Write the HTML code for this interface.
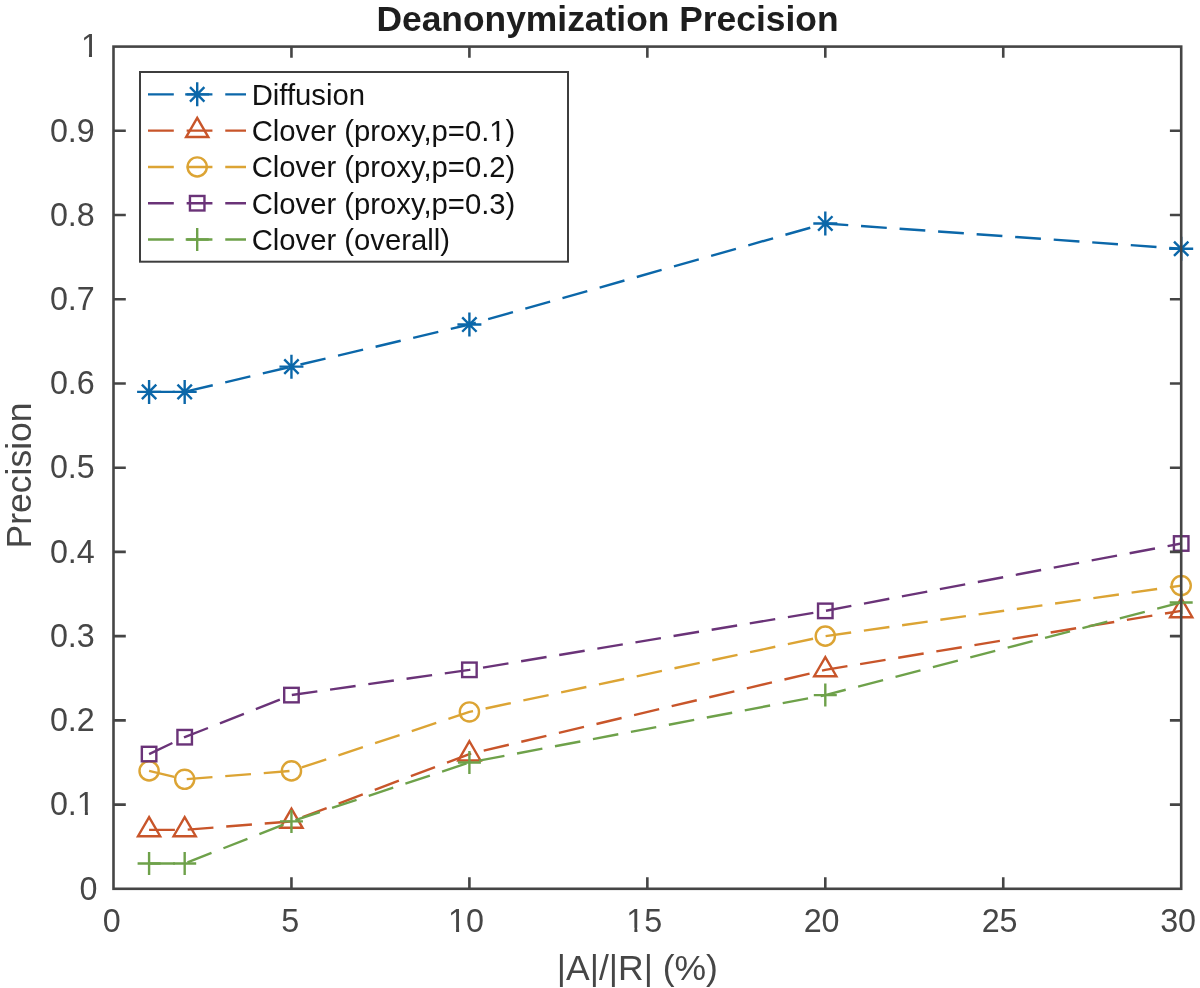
<!DOCTYPE html>
<html><head><meta charset="utf-8"><title>Deanonymization Precision</title>
<style>
html,body{margin:0;padding:0;background:#fff;}
body{width:1200px;height:988px;overflow:hidden;}
svg{display:block;will-change:transform;}
text{font-family:"Liberation Sans", sans-serif;}
</style></head><body>
<svg width="1200" height="988" viewBox="0 0 1200 988">
<rect x="0" y="0" width="1200" height="988" fill="#fff"/>

<polyline points="149.09,391.90 184.68,391.90 291.45,366.64 469.40,324.53 825.30,223.46 1181.20,248.73" fill="none" stroke="#0b67a9" stroke-width="2.4" stroke-dasharray="25.8 12.83" stroke-linejoin="round"/>
<path d="M137.09 391.90H161.09M149.09 379.90V403.90M141.89 384.70L156.29 399.10M141.89 399.10L156.29 384.70" stroke="#0b67a9" stroke-width="2.4" fill="none"/>
<path d="M172.68 391.90H196.68M184.68 379.90V403.90M177.48 384.70L191.88 399.10M177.48 399.10L191.88 384.70" stroke="#0b67a9" stroke-width="2.4" fill="none"/>
<path d="M279.45 366.64H303.45M291.45 354.64V378.64M284.25 359.44L298.65 373.84M284.25 373.84L298.65 359.44" stroke="#0b67a9" stroke-width="2.4" fill="none"/>
<path d="M457.40 324.53H481.40M469.40 312.53V336.53M462.20 317.33L476.60 331.73M462.20 331.73L476.60 317.33" stroke="#0b67a9" stroke-width="2.4" fill="none"/>
<path d="M813.30 223.46H837.30M825.30 211.46V235.46M818.10 216.26L832.50 230.66M818.10 230.66L832.50 216.26" stroke="#0b67a9" stroke-width="2.4" fill="none"/>
<path d="M1169.20 248.73H1193.20M1181.20 236.73V260.73M1174.00 241.53L1188.40 255.93M1174.00 255.93L1188.40 241.53" stroke="#0b67a9" stroke-width="2.4" fill="none"/>
<polyline points="149.09,829.85 184.68,829.85 291.45,821.42 469.40,754.05 825.30,669.83 1181.20,610.87" fill="none" stroke="#c8552a" stroke-width="2.4" stroke-dasharray="25.8 12.83" stroke-linejoin="round"/>
<path d="M149.09 817.05L160.19 836.25L137.99 836.25Z" stroke="#c8552a" stroke-width="2.4" fill="none" stroke-linejoin="miter"/>
<path d="M184.68 817.05L195.78 836.25L173.58 836.25Z" stroke="#c8552a" stroke-width="2.4" fill="none" stroke-linejoin="miter"/>
<path d="M291.45 808.62L302.55 827.82L280.35 827.82Z" stroke="#c8552a" stroke-width="2.4" fill="none" stroke-linejoin="miter"/>
<path d="M469.40 741.25L480.50 760.45L458.30 760.45Z" stroke="#c8552a" stroke-width="2.4" fill="none" stroke-linejoin="miter"/>
<path d="M825.30 657.03L836.40 676.23L814.20 676.23Z" stroke="#c8552a" stroke-width="2.4" fill="none" stroke-linejoin="miter"/>
<path d="M1181.20 598.07L1192.30 617.27L1170.10 617.27Z" stroke="#c8552a" stroke-width="2.4" fill="none" stroke-linejoin="miter"/>
<polyline points="149.09,770.89 184.68,779.31 291.45,770.89 469.40,711.94 825.30,636.14 1181.20,585.61" fill="none" stroke="#dca434" stroke-width="2.4" stroke-dasharray="25.8 12.83" stroke-linejoin="round"/>
<circle cx="149.09" cy="770.89" r="9.6" stroke="#dca434" stroke-width="2.4" fill="none"/>
<circle cx="184.68" cy="779.31" r="9.6" stroke="#dca434" stroke-width="2.4" fill="none"/>
<circle cx="291.45" cy="770.89" r="9.6" stroke="#dca434" stroke-width="2.4" fill="none"/>
<circle cx="469.40" cy="711.94" r="9.6" stroke="#dca434" stroke-width="2.4" fill="none"/>
<circle cx="825.30" cy="636.14" r="9.6" stroke="#dca434" stroke-width="2.4" fill="none"/>
<circle cx="1181.20" cy="585.61" r="9.6" stroke="#dca434" stroke-width="2.4" fill="none"/>
<polyline points="149.09,754.05 184.68,737.20 291.45,695.09 469.40,669.83 825.30,610.87 1181.20,543.50" fill="none" stroke="#6a3378" stroke-width="2.4" stroke-dasharray="25.8 12.83" stroke-linejoin="round"/>
<rect x="141.84" y="746.80" width="14.50" height="14.50" stroke="#6a3378" stroke-width="2.4" fill="none"/>
<rect x="177.43" y="729.95" width="14.50" height="14.50" stroke="#6a3378" stroke-width="2.4" fill="none"/>
<rect x="284.20" y="687.84" width="14.50" height="14.50" stroke="#6a3378" stroke-width="2.4" fill="none"/>
<rect x="462.15" y="662.58" width="14.50" height="14.50" stroke="#6a3378" stroke-width="2.4" fill="none"/>
<rect x="818.05" y="603.62" width="14.50" height="14.50" stroke="#6a3378" stroke-width="2.4" fill="none"/>
<rect x="1173.95" y="536.25" width="14.50" height="14.50" stroke="#6a3378" stroke-width="2.4" fill="none"/>
<polyline points="149.09,863.53 184.68,863.53 291.45,821.42 469.40,762.47 825.30,695.09 1181.20,602.45" fill="none" stroke="#6ea14a" stroke-width="2.4" stroke-dasharray="25.8 12.83" stroke-linejoin="round"/>
<path d="M137.59 863.53H160.59M149.09 852.03V875.03" stroke="#6ea14a" stroke-width="2.4" fill="none"/>
<path d="M173.18 863.53H196.18M184.68 852.03V875.03" stroke="#6ea14a" stroke-width="2.4" fill="none"/>
<path d="M279.95 821.42H302.95M291.45 809.92V832.92" stroke="#6ea14a" stroke-width="2.4" fill="none"/>
<path d="M457.90 762.47H480.90M469.40 750.97V773.97" stroke="#6ea14a" stroke-width="2.4" fill="none"/>
<path d="M813.80 695.09H836.80M825.30 683.59V706.59" stroke="#6ea14a" stroke-width="2.4" fill="none"/>
<path d="M1169.70 602.45H1192.70M1181.20 590.95V613.95" stroke="#6ea14a" stroke-width="2.4" fill="none"/>
<rect x="113.5" y="46.6" width="1067.70" height="842.20" fill="none" stroke="#454545" stroke-width="2.6"/>
<path d="M291.45 888.8V877.3M291.45 46.6V57.7M469.40 888.8V877.3M469.40 46.6V57.7M647.35 888.8V877.3M647.35 46.6V57.7M825.30 888.8V877.3M825.30 46.6V57.7M1003.25 888.8V877.3M1003.25 46.6V57.7M113.5 804.58H125.8M1181.2 804.58H1169.9M113.5 720.36H125.8M1181.2 720.36H1169.9M113.5 636.14H125.8M1181.2 636.14H1169.9M113.5 551.92H125.8M1181.2 551.92H1169.9M113.5 467.70H125.8M1181.2 467.70H1169.9M113.5 383.48H125.8M1181.2 383.48H1169.9M113.5 299.26H125.8M1181.2 299.26H1169.9M113.5 215.04H125.8M1181.2 215.04H1169.9M113.5 130.82H125.8M1181.2 130.82H1169.9" stroke="#454545" stroke-width="2.6" fill="none"/>
<g font-size="32.3" fill="#464646">
<text x="97.4" y="899.55" text-anchor="end">0</text>
<text x="94.8" y="815.33" text-anchor="end">0.1</text>
<text x="94.8" y="731.11" text-anchor="end">0.2</text>
<text x="94.8" y="646.89" text-anchor="end">0.3</text>
<text x="94.8" y="562.67" text-anchor="end">0.4</text>
<text x="94.8" y="478.45" text-anchor="end">0.5</text>
<text x="94.8" y="394.23" text-anchor="end">0.6</text>
<text x="94.8" y="310.01" text-anchor="end">0.7</text>
<text x="94.8" y="225.79" text-anchor="end">0.8</text>
<text x="94.8" y="141.57" text-anchor="end">0.9</text>
<text x="98.9" y="57.35" text-anchor="end">1</text>
<text x="111.70" y="932.0" text-anchor="middle">0</text>
<text x="290.30" y="932.0" text-anchor="middle">5</text>
<text x="466.00" y="932.0" text-anchor="middle">10</text>
<text x="644.30" y="932.0" text-anchor="middle">15</text>
<text x="821.60" y="932.0" text-anchor="middle">20</text>
<text x="999.60" y="932.0" text-anchor="middle">25</text>
<text x="1178.10" y="932.0" text-anchor="middle">30</text>
</g>
<text x="556.8" y="979.8" font-size="35.5" fill="#464646">|A|/|R| (%)</text>
<text transform="translate(30.6 548.4) rotate(-90)" font-size="35.5" fill="#464646">Precision</text>
<text x="376.4" y="31" font-size="35.4" font-weight="bold" fill="#1e1e1e">Deanonymization Precision</text>
<rect x="140" y="72" width="428" height="189.70" fill="#fff" stroke="#3e3e3e" stroke-width="2"/>
<line x1="148" y1="94.35" x2="246" y2="94.35" stroke="#0b67a9" stroke-width="2.4" stroke-dasharray="25.8 12.83"/>
<path d="M185.20 94.35H209.20M197.20 82.35V106.35M190.00 87.15L204.40 101.55M190.00 101.55L204.40 87.15" stroke="#0b67a9" stroke-width="2.4" fill="none"/>
<text x="251.7" y="104.75" font-size="29.25" fill="#111">Diffusion</text>
<line x1="148" y1="130.64" x2="246" y2="130.64" stroke="#c8552a" stroke-width="2.4" stroke-dasharray="25.8 12.83"/>
<path d="M197.20 117.84L208.30 137.04L186.10 137.04Z" stroke="#c8552a" stroke-width="2.4" fill="none" stroke-linejoin="miter"/>
<text x="251.7" y="141.04" font-size="29.25" fill="#111">Clover (proxy,p=0.1)</text>
<line x1="148" y1="166.93" x2="246" y2="166.93" stroke="#dca434" stroke-width="2.4" stroke-dasharray="25.8 12.83"/>
<circle cx="197.20" cy="166.93" r="9.6" stroke="#dca434" stroke-width="2.4" fill="none"/>
<text x="251.7" y="177.33" font-size="29.25" fill="#111">Clover (proxy,p=0.2)</text>
<line x1="148" y1="203.22" x2="246" y2="203.22" stroke="#6a3378" stroke-width="2.4" stroke-dasharray="25.8 12.83"/>
<rect x="189.95" y="195.97" width="14.50" height="14.50" stroke="#6a3378" stroke-width="2.4" fill="none"/>
<text x="251.7" y="213.62" font-size="29.25" fill="#111">Clover (proxy,p=0.3)</text>
<line x1="148" y1="239.51" x2="246" y2="239.51" stroke="#6ea14a" stroke-width="2.4" stroke-dasharray="25.8 12.83"/>
<path d="M185.70 239.51H208.70M197.20 228.01V251.01" stroke="#6ea14a" stroke-width="2.4" fill="none"/>
<text x="251.7" y="249.91" font-size="29.25" fill="#111">Clover (overall)</text>
<rect x="82.51" y="53.14" width="6.45" height="6.71" fill="#fff"/><rect x="92.01" y="53.14" width="6.21" height="6.71" fill="#fff"/>
<rect x="78.41" y="811.12" width="6.45" height="6.71" fill="#fff"/><rect x="87.91" y="811.12" width="6.21" height="6.71" fill="#fff"/>
<rect x="449.61" y="927.79" width="6.45" height="6.71" fill="#fff"/><rect x="459.11" y="927.79" width="6.21" height="6.71" fill="#fff"/>
<rect x="627.91" y="927.79" width="6.45" height="6.71" fill="#fff"/><rect x="637.41" y="927.79" width="6.21" height="6.71" fill="#fff"/>
<rect x="490.74" y="137.05" width="5.83" height="6.49" fill="#fff"/><rect x="499.35" y="137.05" width="5.63" height="6.49" fill="#fff"/>
</svg>
</body></html>
